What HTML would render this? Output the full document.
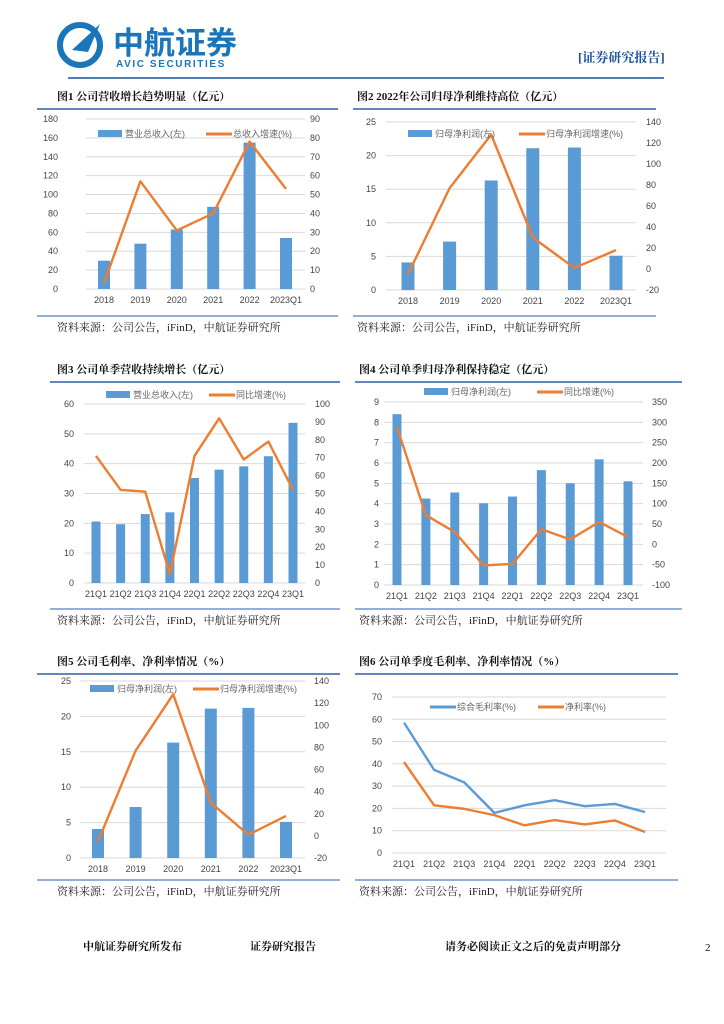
<!DOCTYPE html>
<html><head><meta charset="utf-8">
<style>
body{margin:0;background:#fff;}
svg{display:block;font-family:"Liberation Serif","Noto Serif CJK SC",serif;}
.t{font-size:11px;font-weight:bold;fill:#111;}
.tk{font-size:9px;fill:#444;font-family:"Liberation Sans","Noto Sans CJK SC",sans-serif;}
.lg{font-size:9px;fill:#666;font-family:"Liberation Sans","Noto Sans CJK SC",sans-serif;}
.src{font-size:11px;fill:#222;}
</style></head><body>
<svg id="page" width="724" height="1024" viewBox="0 0 724 1024" xmlns="http://www.w3.org/2000/svg">
<g>
 <circle cx="80" cy="45" r="20" fill="none" stroke="#1a75bb" stroke-width="6"/>
 <path d="M72 50 L100 24 L88 52 Z" fill="#1a75bb"/>
 <text x="113" y="54" font-size="31" font-weight="bold" fill="#1a75bb" font-family="'Noto Sans CJK SC',sans-serif">中航证券</text>
 <text x="116" y="67" font-size="10" font-weight="bold" fill="#1a75bb" letter-spacing="1.6" font-family="'Liberation Sans',sans-serif">AVIC SECURITIES</text>
 <text x="578" y="62" font-size="13" font-weight="bold" fill="#1a4f9c">[证券研究报告]</text>
 <line x1="68" y1="78" x2="664" y2="78" stroke="#1a4f9c" stroke-width="1.5"/>
</g>
<g id="charts"></g>
<g>
 <text x="83" y="950" font-size="11" font-weight="bold" fill="#111">中航证券研究所发布</text>
 <text x="250" y="950" font-size="11" font-weight="bold" fill="#111">证券研究报告</text>
 <text x="445" y="950" font-size="11" font-weight="bold" fill="#111">请务必阅读正文之后的免责声明部分</text>
 <text x="705" y="951" font-size="11" fill="#111">2</text>
</g>
</svg>
<script>
// Chart 1 data
const c1Cats=["2018","2019","2020","2021","2022","2023Q1"];
const c1Bars=[30,48,63,87,155,54];
const c1Line=[3,57,31,40,78,53];
const c1LeftTicks=[0,20,40,60,80,100,120,140,160,180];
const c1RightTicks=[0,10,20,30,40,50,60,70,80,90];
// Chart 2 / 5 data
const c2Cats=["2018","2019","2020","2021","2022","2023Q1"];
const c2Bars=[4.1,7.2,16.3,21.1,21.2,5.1];
const c2Line=[-5,77,128,30,1,18];
const c2LeftTicks=[0,5,10,15,20,25];
const c2RightTicks=[-20,0,20,40,60,80,100,120,140];
// Chart 3 data
const qCats=["21Q1","21Q2","21Q3","21Q4","22Q1","22Q2","22Q3","22Q4","23Q1"];
const c3Bars=[20.6,19.7,23.1,23.7,35.2,38,39.1,42.5,53.7];
const c3Line=[71,52,51,5,71,92,69,79,52];
const c3LeftTicks=[0,10,20,30,40,50,60];
const c3RightTicks=[0,10,20,30,40,50,60,70,80,90,100];
// Chart 4 data
const c4Bars=[8.4,4.25,4.55,4.02,4.35,5.65,5.0,6.18,5.1];
const c4Line=[288,72,30,-52,-48,37,12,55,18];
const c4LeftTicks=[0,1,2,3,4,5,6,7,8,9];
const c4RightTicks=[-100,-50,0,50,100,150,200,250,300,350];
// Chart 6 data
const c6Gross=[58.5,37.3,31.7,18,21.4,23.7,21,22,18.4];
const c6Net=[40.8,21.4,19.8,17,12.4,14.8,12.8,14.6,9.4];
const c6LeftTicks=[0,10,20,30,40,50,60,70];

const NS="http://www.w3.org/2000/svg";
const root=document.getElementById('charts');
function mk(tag,attrs,parent,txt){const e=document.createElementNS(NS,tag);for(const k in attrs)e.setAttribute(k,attrs[k]);if(txt!==undefined)e.textContent=txt;parent.appendChild(e);return e;}

function chart(o){
 const g=mk('g',{},root);
 
 
 const tt=mk('text',{x:o.tx,y:o.ty,class:'t'},g,o.title);
 
 
 const r1=mk('line',{x1:o.fx,x2:o.fx+o.fw,y1:o.ty+9,y2:o.ty+9,stroke:'#2e5ea8','stroke-width':1.5},g);
 
 
 const r2=mk('line',{x1:o.fx,x2:o.fx+o.fw,y1:o.by,y2:o.by,stroke:'#6f95c8','stroke-width':1.5},g);
 
 
 const st=mk('text',{x:o.tx,y:o.by+15,class:'src'},g,'资料来源：公司公告，iFinD，中航证券研究所');
 
 
 const L=o.lt, lmin=L[0], lmax=L[L.length-1];
 const yL=v=>o.y0-(v-lmin)/(lmax-lmin)*(o.y0-o.y1);
 let yR=null;
 if(o.rt){const R=o.rt,rmin=R[0],rmax=R[R.length-1];yR=v=>o.y0-(v-rmin)/(rmax-rmin)*(o.y0-o.y1);}
 const n=o.cats.length;
 const xC=i=>o.cx0+i*(o.cx1-o.cx0)/(n-1);
 L.forEach(v=>{
  const gl=mk('line',{x1:o.gx0,x2:o.gx1,y1:yL(v),y2:yL(v),stroke:'#d9d9d9','stroke-width':1},g);
  
  
  const tl=mk('text',{x:o.lx,y:yL(v)+3,class:'tk','text-anchor':'end'},g,v);
  
  
 });
 if(o.rt)o.rt.forEach(v=>{
  const tl=mk('text',{x:o.rx,y:yR(v)+3,class:'tk'},g,v);
  
  
 });
 o.cats.forEach((c,i)=>{
  const cl=mk('text',{x:xC(i),y:o.y0+14,class:'tk','text-anchor':'middle'},g,c);
  
  
 });
 if(o.bars)o.bars.forEach((v,i)=>{
  const b=mk('rect',{x:xC(i)-o.bw/2,y:yL(v),width:o.bw,height:o.y0-yL(v),fill:'#5b9bd5'},g);
  
  
 });
 (o.lines||[]).forEach(ln=>{
  const f=ln.axis==='L'?yL:yR;
  const p=mk('polyline',{points:ln.vals.map((v,i)=>xC(i)+','+f(v)).join(' '),fill:'none',stroke:ln.color,'stroke-width':2.4,'stroke-linejoin':'round'},g);
  
  
 });
 o.legend.forEach(le=>{
  let m;
  if(le.type==='bar')m=mk('rect',{x:le.x,y:le.y-4,width:24,height:7,fill:'#5b9bd5'},g);
  else m=mk('line',{x1:le.x,x2:le.x+26,y1:le.y,y2:le.y,stroke:le.color,'stroke-width':3},g);
  
  
  const lt=mk('text',{x:le.x+27,y:le.y+3,class:'lg'},g,le.text);
  
  
 });
}
const OR='#ed7d31',BL='#5b9bd5';
chart({name:'chart-revenue-annual',title:'图1  公司营收增长趋势明显（亿元）',tx:57,fx:37,fw:301,ty:100,by:316,
 lt:c1LeftTicks,rt:c1RightTicks,y0:289,y1:119,lx:58,rx:310,gx0:86,gx1:305,cx0:104,cx1:286,bw:12,
 cats:c1Cats,bars:c1Bars,lines:[{vals:c1Line,axis:'R',color:OR,name:'growth-line'}],
 legend:[{type:'bar',x:98,y:134,text:'营业总收入(左)'},{type:'line',x:206,y:134,color:OR,text:'总收入增速(%)'}]});
chart({name:'chart-netprofit-annual',title:'图2  2022年公司归母净利维持高位（亿元）',tx:357,fx:353,fw:303,ty:100,by:316,
 lt:c2LeftTicks,rt:c2RightTicks,y0:290,y1:122,lx:376,rx:646,gx0:386,gx1:636,cx0:408,cx1:616,bw:13,
 cats:c2Cats,bars:c2Bars,lines:[{vals:c2Line,axis:'R',color:OR,name:'growth-line'}],
 legend:[{type:'bar',x:408,y:134,text:'归母净利润(左)'},{type:'line',x:519,y:134,color:OR,text:'归母净利润增速(%)'}]});
chart({name:'chart-revenue-quarterly',title:'图3  公司单季营收持续增长（亿元）',tx:57,fx:50,fw:290,ty:373,by:609,
 lt:c3LeftTicks,rt:c3RightTicks,y0:583,y1:404,lx:74,rx:315,gx0:84,gx1:305,cx0:96,cx1:293,bw:9,
 cats:qCats,bars:c3Bars,lines:[{vals:c3Line,axis:'R',color:OR,name:'growth-line'}],
 legend:[{type:'bar',x:106,y:395,text:'营业总收入(左)'},{type:'line',x:209,y:395,color:OR,text:'同比增速(%)'}]});
chart({name:'chart-netprofit-quarterly',title:'图4  公司单季归母净利保持稳定（亿元）',tx:359,fx:355,fw:327,ty:373,by:609,
 lt:c4LeftTicks,rt:c4RightTicks,y0:585,y1:402,lx:379,rx:652,gx0:384,gx1:643,cx0:397,cx1:628,bw:9,
 cats:qCats,bars:c4Bars,lines:[{vals:c4Line,axis:'R',color:OR,name:'growth-line'}],
 legend:[{type:'bar',x:424,y:392,text:'归母净利润(左)'},{type:'line',x:537,y:392,color:OR,text:'同比增速(%)'}]});
chart({name:'chart-margins-annual',title:'图5  公司毛利率、净利率情况（%）',tx:57,fx:37,fw:303,ty:665,by:880,
 lt:c2LeftTicks,rt:c2RightTicks,y0:858,y1:681,lx:71,rx:314,gx0:80,gx1:305,cx0:98,cx1:286,bw:12,
 cats:c2Cats,bars:c2Bars,lines:[{vals:c2Line,axis:'R',color:OR,name:'growth-line'}],
 legend:[{type:'bar',x:90,y:689,text:'归母净利润(左)'},{type:'line',x:193,y:689,color:OR,text:'归母净利润增速(%)'}]});
chart({name:'chart-margins-quarterly',title:'图6  公司单季度毛利率、净利率情况（%）',tx:359,fx:355,fw:323,ty:665,by:880,
 lt:c6LeftTicks,y0:853,y1:697,lx:382,gx0:392,gx1:666,cx0:404,cx1:645,
 cats:qCats,lines:[{vals:c6Gross,axis:'L',color:BL,name:'gross-margin-line'},{vals:c6Net,axis:'L',color:OR,name:'net-margin-line'}],
 legend:[{type:'line',x:430,y:707,color:BL,text:'综合毛利率(%)'},{type:'line',x:538,y:707,color:OR,text:'净利率(%)'}]});
</script>
</body></html>
